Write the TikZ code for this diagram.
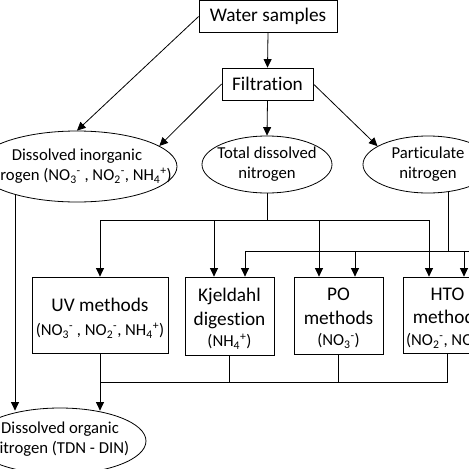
\documentclass[tikz,border=0pt]{standalone}
\usepackage{fontspec}
\setmainfont{Carlito}[Ligatures=NoCommon]
\usetikzlibrary{arrows.meta,shapes.geometric,backgrounds}
\newcommand{\bigf}{\fontsize{19.3}{23.5}\selectfont}
\newcommand{\smallf}{\fontsize{16.7}{20}\selectfont}
\newcommand{\ion}[2]{\textsubscript{#1}\textsuperscript{#2}}
\tikzset{
  conn/.style={line width=0.8pt, draw=black},
  arr/.style={conn, -{Triangle[length=8.5pt,width=8pt]}},
  boxnode/.style={draw, line width=0.8pt, fill=white, inner sep=0pt, align=center, font=\bigf},
  ellnode/.style={ellipse, draw, line width=0.8pt, fill=white, inner sep=0pt},
  elltext/.style={align=center, font=\smallf, inner sep=0pt}
}
\begin{document}
\begin{tikzpicture}[x=1pt,y=-1pt]
\useasboundingbox (0,0) rectangle (469,469);
\clip (0,0) rectangle (469,469);
% boxes
\node[boxnode, minimum width=138pt, minimum height=32pt] (ws) at (268,16.5) {Water samples};
\node[boxnode, minimum width=91pt, minimum height=32pt] (filt) at (267.5,84) {Filtration};
% ellipses
\node[ellnode, minimum width=200pt, minimum height=71pt] (din) at (77,166.5) {};
\node[elltext] at (din) {Dissolved inorganic\\nitrogen (NO\ion{3}{-} , NO\ion{2}{-}, NH\ion{4}{+})};
\node[ellnode, minimum width=130pt, minimum height=57pt] (tdn) at (267,164.5) {};
\node[elltext] at (tdn) {Total dissolved\\nitrogen};
\node[ellnode, minimum width=130pt, minimum height=57pt] (pn) at (428,164.5) {};
\node[elltext] at (pn) {Particulate\\nitrogen};
% method boxes
\node[boxnode, minimum width=136pt, minimum height=76pt] (uv) at (100,315) {};
\node[align=center, font=\bigf, inner sep=0pt] at ([yshift=-3pt]uv.center) {UV methods\\[1pt]{\smallf (NO\ion{3}{-} , NO\ion{2}{-}, NH\ion{4}{+})}};
\node[boxnode, minimum width=89pt, minimum height=78pt] (kj) at (229.5,316) {};
\node[align=center, font=\bigf, inner sep=0pt] at ([yshift=-3pt]kj.center) {Kjeldahl\\digestion\\[-2pt]{\smallf (NH\ion{4}{+})}};
\node[boxnode, minimum width=89pt, minimum height=77pt] (po) at (338.5,315.5) {};
\node[align=center, font=\bigf, inner sep=0pt] at ([yshift=-3pt]po.center) {PO\\methods\\[-2pt]{\smallf (NO\ion{3}{-})}};
\node[boxnode, minimum width=89pt, minimum height=76pt] (hto) at (447.5,315) {};
\node[align=center, font=\bigf, inner sep=0pt] at ([yshift=-3pt]hto.center) {HTO\\methods\\[-2pt]{\smallf (NO\ion{2}{-}, NO\ion{3}{-})}};
\node[ellnode, minimum width=172pt, minimum height=66pt] (don) at (60,441) {};
\node[elltext] at ([yshift=1.5pt]don.center) {Dissolved organic\\nitrogen (TDN - DIN)};
% bus coordinates
\coordinate (busA) at (0,220);
\coordinate (busB) at (0,251);
\coordinate (busC) at (0,382);
\begin{scope}[on background layer]
\fill[white] (0,0) rectangle (469,469);
\draw[arr] (ws.west) -- (din.north);
\draw[arr] (ws.south) -- (filt.north);
\draw[arr] (filt.west) -- (din.14);
\draw[arr] (filt.south) -- (tdn.north);
\draw[arr] (filt.east) -- (pn.160);
% TDN bus
\draw[conn] (tdn.south) -- (tdn.south |- busA);
\draw[conn] (uv.north |- busA) -- (429,220);
\draw[arr] (uv.north |- busA) -- (uv.north);
\draw[arr] (214,220) -- (kj.north -| 214,0);
\draw[arr] (319,220) -- (po.north -| 319,0);
\draw[arr] (429,220) -- (hto.north -| 429,0);
% PN bus
\draw[conn] (pn.center -| 448,0) -- (448,251);
\draw[conn] (245,251) -- (470,251);
\draw[arr] (245,251) -- (kj.north -| 245,0);
\draw[arr] (355,251) -- (po.north -| 355,0);
\draw[arr] (464,251) -- (hto.north -| 464,0);
% bottom bus
\draw[conn] (kj.south) -- (kj.south |- busC);
\draw[conn] (po.south) -- (po.south |- busC);
\draw[conn] (hto.south) -- (hto.south |- busC);
\draw[conn] (uv.south |- busC) -- (hto.south |- busC);
\draw[arr] (uv.south) -- ([yshift=-3pt]don.north -| uv.south);
\draw[arr] (din.center -| 15,0) -- ([yshift=-3pt]don.north -| 15,0);
\end{scope}
\end{tikzpicture}
\end{document}
